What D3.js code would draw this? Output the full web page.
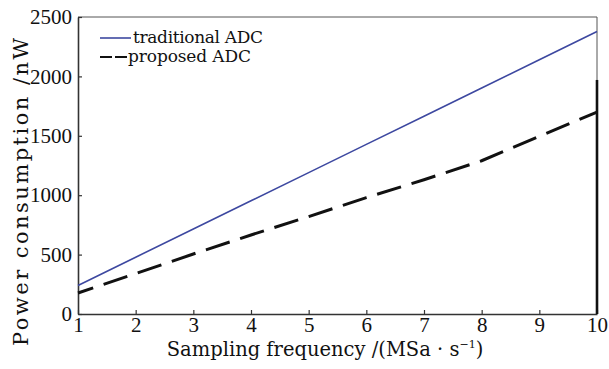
<!DOCTYPE html>
<html>
<head>
<meta charset="utf-8">
<script src="https://cdn.jsdelivr.net/npm/d3@7"></script>
<style>
  html, body { margin: 0; padding: 0; background: #fff; }
  svg { display: block; }
</style>
</head>
<body>
<svg id="chart" width="609" height="369"></svg>
<script>
// ---- data ----
const frequencies = [1, 2, 3, 4, 5, 6, 7, 8, 9, 10];
const traditionalADC = [240, 478, 716, 953, 1190, 1428, 1665, 1903, 2140, 2378];
const proposedADC = [177, 340, 505, 665, 820, 980, 1130, 1290, 1495, 1700];
const edgeLine = [[10, 1970], [10, 0]];
const xTicks = [1, 2, 3, 4, 5, 6, 7, 8, 9, 10];
const yTicks = [0, 500, 1000, 1500, 2000, 2500];
const seriesNames = ["traditional ADC", "proposed ADC"];

const svg = d3.select("#chart");
const x = d3.scaleLinear().domain([1, 10]).range([78, 597]);
const y = d3.scaleLinear().domain([0, 2500]).range([314, 17]);

// frame top / right (thin)
svg.append("line").attr("x1", x(1)).attr("x2", x(10)).attr("y1", y(2500)).attr("y2", y(2500))
  .attr("stroke", "#555").attr("stroke-width", 1);
svg.append("line").attr("x1", x(10)).attr("x2", x(10)).attr("y1", y(2500)).attr("y2", y(0))
  .attr("stroke", "#555").attr("stroke-width", 1);

// axes
const xAxis = svg.append("g").attr("transform", `translate(0,${y(0)})`)
  .call(d3.axisBottom(x).tickValues(xTicks).tickSize(-4).tickSizeOuter(0).tickPadding(3).tickFormat(d3.format("d")));
const yAxis = svg.append("g").attr("transform", `translate(${x(1)},0)`)
  .call(d3.axisLeft(y).tickValues(yTicks).tickSize(-4).tickSizeOuter(0).tickPadding(6).tickFormat(d3.format("d")));

[xAxis, yAxis].forEach(g => {
  g.select(".domain").attr("stroke", "#333").attr("stroke-width", 1.6);
  g.selectAll(".tick line").attr("stroke", "#333").attr("stroke-width", 1.2);
  g.selectAll(".tick text").attr("fill", "#111")
    .style("font-family", "'Liberation Serif', serif").style("font-size", "21px");
});

// lines
const line = d3.line().x((d, i) => x(frequencies[i])).y(d => y(d));
svg.append("path").datum(traditionalADC).attr("d", line)
  .attr("fill", "none").attr("stroke", "#3d48a0").attr("stroke-width", 1.6);
svg.append("path").datum(proposedADC).attr("d", line)
  .attr("fill", "none").attr("stroke", "#111").attr("stroke-width", 3)
  .attr("stroke-dasharray", "25,11").attr("stroke-dashoffset", 9);

// edge artifact line
svg.append("path").datum(edgeLine)
  .attr("d", d3.line().x(d => x(d[0])).y(d => y(d[1])))
  .attr("stroke", "#111").attr("stroke-width", 2.6).attr("fill", "none");

// legend
const lg = svg.append("g");
lg.append("line").attr("x1", 100).attr("x2", 131).attr("y1", 38).attr("y2", 38)
  .attr("stroke", "#3d48a0").attr("stroke-width", 1.6);
lg.append("text").attr("x", 133).attr("y", 43).text(seriesNames[0])
  .style("font-family", "'DejaVu Serif', serif").style("font-size", "17px").attr("fill", "#111")
  .attr("textLength", 130).attr("lengthAdjust", "spacing");
lg.append("line").attr("x1", 100).attr("x2", 112).attr("y1", 57).attr("y2", 57)
  .attr("stroke", "#111").attr("stroke-width", 2);
lg.append("line").attr("x1", 115).attr("x2", 127).attr("y1", 57).attr("y2", 57)
  .attr("stroke", "#111").attr("stroke-width", 2);
lg.append("text").attr("x", 128).attr("y", 62).text(seriesNames[1])
  .style("font-family", "'DejaVu Serif', serif").style("font-size", "17px").attr("fill", "#111")
  .attr("textLength", 123).attr("lengthAdjust", "spacing");

// axis titles
const xt = svg.append("text").attr("x", 325).attr("y", 356).attr("text-anchor", "middle")
  .style("font-family", "'DejaVu Serif', serif").style("font-size", "19.5px").attr("fill", "#111");
xt.append("tspan").text("Sampling frequency  /(MSa \u00b7 s");
xt.append("tspan").text("\u22121").attr("dy", -8).style("font-size", "11px");
xt.append("tspan").text(")").attr("dy", 8);

svg.append("text").attr("transform", "translate(28,192) rotate(-90)").attr("text-anchor", "middle")
  .style("font-family", "'DejaVu Serif', serif").style("font-size", "21px").attr("fill", "#111")
  .attr("textLength", 308).attr("lengthAdjust", "spacing")
  .text("Power consumption /nW");
</script>
</body>
</html>
